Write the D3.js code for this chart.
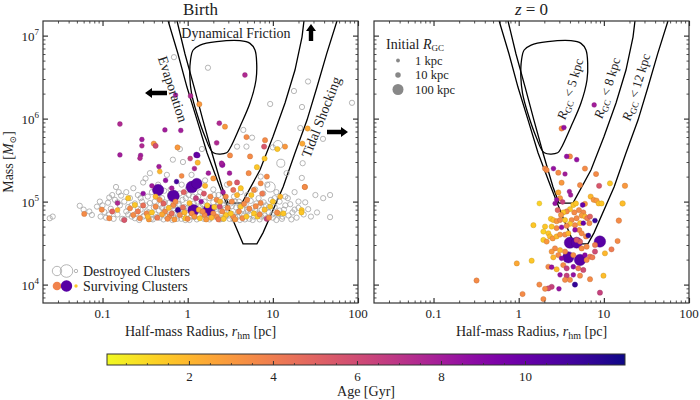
<!DOCTYPE html>
<html lang="en">
<head>
<meta charset="UTF-8">
<title>Cluster sizes</title>
<style>
  body { margin: 0; background: #fff; }
  text { font-family: "Liberation Serif", "DejaVu Serif", serif; fill: #222; }
</style>
</head>
<body>
<svg id="svg" width="700" height="400"></svg>
<script src="https://d3js.org/d3.v7.min.js"></script>
<script>
// destroyed clusters at birth: [rhm pc, mass Msun, initial R_GC kpc]
const destroyed = [
  [0.024,6.3e4,8],[0.026,6.6e4,8],[0.054,8.9e4,8],[0.06,8.0e4,8],[0.07,7.6e4,8],[0.075,6.9e4,8],[0.086,8.7e4,8],
  [0.093,1.0e5,8],[0.095,6.6e4,8],[0.1,9.0e4,8],[0.105,7.5e4,8],[0.11,6.4e4,8],[0.116,9.7e4,8],[0.12,1.12e5,8],
  [0.12,7.0e4,8],[0.125,8.2e4,8],[0.13,1.2e5,8],[0.135,6.2e4,8],[0.14,1.05e5,8],[0.144,1.5e5,8],[0.15,7.0e4,8],
  [0.15,9.8e4,8],[0.155,1.3e5,8],[0.16,9.0e4,8],[0.165,1.18e5,8],[0.17,6.2e4,8],[0.18,1.0e5,8],[0.18,6.1e4,8],
  [0.19,1.3e5,8],[0.19,7.6e4,8],[0.2,8.6e4,8],[0.2,7.0e4,8],[0.21,1.1e5,8],[0.22,6.6e4,8],[0.22,9.0e4,8],
  [0.23,1.45e5,8],[0.24,9.5e4,8],[0.24,6.3e4,8],[0.25,7.2e4,8],[0.26,1.2e5,8],[0.26,8.2e4,8],[0.27,6.0e4,8],
  [0.28,8.0e4,8],[0.28,1.1e5,8],[0.29,1.0e5,8],[0.3,1.7e5,8],[0.3,6.6e4,8],[0.31,6.8e4,8],[0.32,1.9e5,8],
  [0.32,9.0e4,8],[0.33,7.6e4,8],[0.34,1.15e5,8],[0.35,7.4e4,8],[0.36,2.2e5,8],[0.36,9.6e4,8],[0.37,6.2e4,8],
  [0.38,1.3e5,8],[0.39,6.1e4,8],[0.4,8.5e4,8],[0.41,1.0e5,8],[0.42,7.0e4,8],[0.43,6.5e4,8],[0.44,1.2e5,8],
  [0.45,1.6e5,8],[0.46,7.8e4,8],[0.47,6.4e4,8],[0.48,9.2e4,8],[0.5,1.1e5,8],[0.5,8.4e4,8],[0.52,6.1e4,8],
  [0.53,1.35e5,8],[0.54,9.8e4,8],[0.55,8.0e4,8],[0.56,6.6e4,8],[0.57,2.1e5,8],[0.58,7.0e4,8],[0.6,9.6e4,8],
  [0.6,7.6e4,8],[0.62,1.2e5,8],[0.63,1.4e5,8],[0.64,6.4e4,8],[0.66,6.0e4,8],[0.67,3.2e5,8],[0.67,8.8e4,8],
  [0.69,5.5e6,8],[0.7,1.05e5,8],[0.7,8.0e4,8],[0.72,7.3e4,8],[0.74,1.15e5,8],[0.75,6.2e4,8],[0.77,6.8e4,8],
  [0.78,9.4e4,8],[0.8,1.25e5,8],[0.8,9.0e4,8],[0.81,4.3e5,8],[0.82,7.8e4,8],[0.84,6.2e4,8],[0.85,1.6e5,8],
  [0.87,1.05e5,8],[0.88,3.0e5,8],[0.9,6.6e4,8],[0.9,7.8e4,8],[0.92,8.6e4,8],[0.94,6.0e4,8],[0.95,1.1e5,8],
  [0.98,7.0e4,8],[1.0,1.4e5,8],[1.0,8.4e4,8],[1.03,1.2e5,8],[1.05,6.0e4,8],[1.08,9.0e4,8],[1.1,6.6e4,8],
  [1.11,2.1e5,8],[1.12,7.5e4,8],[1.15,1.15e5,8],[1.18,9.5e4,8],[1.2,6.5e4,8],[1.22,7.2e4,8],[1.25,8.3e4,8],
  [1.28,6.1e4,8],[1.3,1.0e5,8],[1.33,1.15e5,8],[1.35,6.8e4,8],[1.4,1.3e5,8],[1.4,8.6e4,8],[1.45,7.8e4,8],
  [1.47,4.3e5,8],[1.5,9.3e4,8],[1.5,7.0e4,8],[1.55,6.2e4,8],[1.58,1.0e5,8],[1.6,1.8e5,8],[1.62,6.3e4,8],
  [1.65,7.2e4,8],[1.7,8.8e4,8],[1.73,4.1e6,8],[1.75,8.0e4,8],[1.8,1.1e5,8],[1.8,6.1e4,8],[1.85,6.4e4,8],
  [1.9,7.6e4,8],[1.95,7.0e4,8],[2.0,9.8e4,8],[2.0,1.4e5,8],[2.05,1.2e5,8],[2.1,6.6e4,8],[2.15,8.6e4,8],
  [2.2,8.2e4,8],[2.25,6.4e4,8],[2.3,1.2e5,8],[2.35,9.4e4,8],[2.4,6.1e4,8],[2.45,7.8e4,8],[2.5,7.3e4,8],
  [2.6,9.0e4,8],[2.6,6.2e4,8],[2.7,1.05e5,8],[2.75,8.4e4,8],[2.8,6.7e4,8],[2.9,1.6e5,8],[2.9,1.0e5,8],
  [3.0,8.0e4,8],[3.05,6.8e4,8],[3.1,6.2e4,8],[3.2,9.5e4,8],[3.3,7.1e4,8],[3.3,8.8e4,8],[3.45,6.1e4,8],
  [3.5,1.15e5,8],[3.6,6.5e4,8],[3.6,1.0e5,8],[3.7,8.5e4,8],[3.8,4.6e5,8],[3.9,7.5e4,8],[3.9,6.6e4,8],
  [4.0,1.0e5,8],[4.1,6.0e4,8],[4.1,8.8e4,8],[4.2,1.3e5,8],[4.3,7.0e4,8],[4.4,8.1e4,8],[4.5,7.3e5,8],
  [4.6,6.8e4,8],[4.7,6.1e4,8],[4.8,9.2e4,8],[4.9,4.6e5,8],[5.0,1.2e5,8],[5.0,8.0e4,8],[5.1,7.6e4,8],
  [5.3,6.2e4,8],[5.4,7.0e4,8],[5.5,1.02e5,8],[5.7,5.9e5,8],[5.8,8.4e4,8],[5.8,6.0e4,8],[6.0,6.6e4,8],
  [6.2,1.4e5,8],[6.2,7.8e4,8],[6.4,9.5e4,8],[6.6,7.2e4,8],[6.8,1.1e5,8],[6.8,8.8e4,8],[7.0,6.1e4,8],
  [7.2,2.0e5,8],[7.3,6.6e4,8],[7.4,8.0e4,8],[7.7,1.25e5,8],[7.8,9.8e4,8],[8.0,6.8e4,8],[8.3,9.0e4,8],
  [8.4,6.3e4,8],[8.6,1.6e5,8],[9.0,7.4e4,8],[9.0,8.6e4,8],[9.3,1.5e5,80],[9.3,1.5e6,8],[9.5,1.05e5,8],
  [9.8,7.0e4,8],[10,4.5e5,8],[10,6.4e4,8],[10.5,8.6e4,8],[10.5,1.1e5,8],[11,1.3e5,8],[11,6.0e4,8],
  [11.5,4.8e5,60],[11.5,7.0e4,8],[12,1.0e5,8],[12,7.8e4,8],[12.4,2.9e5,40],[12.8,6.2e4,8],[13,6.6e4,8],
  [13.5,8.0e4,8],[14,1.15e5,8],[14,9.0e4,8],[14.5,2.2e5,8],[15,1.1e5,8],[15.3,6.8e4,8],[16,9.3e4,8],
  [16.5,6.1e4,8],[17,7.4e4,8],[17.7,2.15e6,8],[18,1.3e5,8],[18,8.0e4,8],[19,6.4e4,8],[20,8.4e4,8],
  [20,1.0e5,8],[21,7.7e5,8],[21.9,1.93e5,8],[22,1.38e6,8],[22.4,2.9e5,8],[23,7.0e4,8],[24,9.8e4,8],
  [25.9,2.8e6,8],[26,8.1e4,8],[28,6.6e4,8],[31.6,1.2e5,8],[33,7.4e4,8],[38.8,5.7e5,8],[39,1.1e5,8],
  [47,1.2e5,8],[47,6.5e4,8],[85,1.55e6,8]
]

// surviving clusters at birth: [rhm pc, mass Msun, age Gyr, initial R_GC kpc]
const birth = [
  [4.7,3.35e6,7.5,6],[1.08,1.87e6,7.5,6],[0.72,1.92e6,8,5],[1.37,1.49e6,3,8],[2.35,8.8e5,7.5,6],
  [2.74,8.0e5,3,8],[0.16,8.6e5,7.5,6],[0.54,7.3e5,8,5],[0.83,7.2e5,8,5],[0.29,5.6e5,8,5],[0.29,4.7e5,7.5,5],
  [0.40,5.0e5,3,8],[0.42,4.7e5,6,8],[0.28,3.6e5,8,5],[0.76,4.5e5,3,8],[1.31,3.6e5,10,6],[1.07,3.3e5,6.5,6],
  [2.19,5.1e5,7.5,6],[3.14,3.6e5,3.5,8],[4.9,6.0e5,3.5,8],[8.1,5.5e5,3.5,8],[7.9,4.6e5,5.5,8],
  [11.3,4.3e5,1.5,8],[13.9,4.6e5,3,8],[25.6,7.6e5,2.5,8],[22.2,5.0e5,2.5,8],[8.0,3.3e5,1.5,8],
  [2.5,2.9e5,8,5],[3.1,2.2e5,8,5],[5.4,3.5e5,3.5,8],[6.5,2.6e5,1.5,8],[23.8,1.5e5,3,8],[21.8,7.9e4,1.5,8],
  [11.6,7.2e4,1.5,8],[8.5,6.2e4,6.5,8],
  [0.16,3.65e5,8,5],[0.275,3.33e5,7.5,5],[0.46,2.64e5,8,5],[0.47,2.3e5,2,6],[0.85,2.04e5,3.5,6],
  [1.27,3.65e5,10,12],[1.31,2.95e5,2,8],[1.75,2.2e5,8,5],[2.55,2.77e5,8.5,10],[0.74,1.74e5,11,5],
  [0.15,9.6e4,7.5,5],[0.15,7.9e4,2,6],[0.061,7.1e4,3.5,8],[0.21,8.3e4,3.5,8],[0.24,9.1e4,1.5,8],
  [0.23,6.9e4,3.5,8],[0.275,6.3e4,3.5,8],[0.33,7.2e4,3.5,8],[0.42,1.15e5,2,8],[0.47,1.05e5,3.5,8],
  [0.54,7.6e4,3.5,8],[0.42,8.7e4,3.5,8],[0.61,6.6e4,3.5,8],[0.68,9.1e4,3.5,8],[0.81,6.9e4,3.5,8],
  [0.77,7.9e4,11.5,10],[0.94,6.3e4,1.5,8],[1.12,7.2e4,3.5,8],
  [1.17,7.9e4,10.5,110],[1.77,7.9e4,10.5,110],[0.45,1.38e5,10.5,110],[0.68,1.17e5,10.5,120],
  [1.12,1.5e5,10.5,120],[1.28,1.65e5,10.5,90],
  [1.44,1.0e5,8.5,5],[2.19,1.05e5,3.5,8],[2.38,8.7e4,6,8],[2.8,1.15e5,3.5,8],[3.43,1.38e5,4.5,8],
  [3.1,1.66e5,3.5,8],[4.2,8.7e4,1.5,8],[5.0,1.05e5,3.5,8],[6.0,1.38e5,3.5,8],[7.2,1.66e5,3.5,8],
  [8.5,2.0e5,3.5,8],[12.2,1.15e5,2,8],[13.3,7.2e4,1.5,8],[11.2,7.4e4,3.5,8],[9.3,8.7e4,1.5,8],
  [7.2,9.6e4,3.5,8],[6.0,7.2e4,1.5,8],[3.43,6.6e4,3.5,8],[2.19,6.6e4,3.5,8],[1.39,6.3e4,1.5,8],
  [1.58,6.9e4,3.5,8],[2.0,7.2e4,3.5,8],[2.8,6.9e4,1.5,8],[4.4,6.3e4,3.5,8],[6.6,6.6e4,1.5,8],
  [21.7,7.4e4,1.5,8],[23.7,1.5e5,3.5,8],
  [0.3,9.0e4,4.5,8],[0.35,6.1e4,3,8],[0.38,7.4e4,1.5,8],[0.44,6.4e4,4,8],[0.5,7.0e4,2.5,8],
  [0.52,9.5e4,5,8],[0.58,6.2e4,3.5,8],[0.6,8.4e4,1.8,8],[0.65,7.2e4,4.5,8],[0.7,6.1e4,3,8],
  [0.72,1.0e5,3.5,8],[0.88,8.5e4,4.5,8],[0.92,7.4e4,2,8],[1.0,6.2e4,3.5,8],[1.05,9.6e4,1.8,8],
  [1.2,6.6e4,3,8],[1.25,1.1e5,6.5,8],[1.35,8.0e4,2,8],[1.5,7.6e4,3.5,8],[1.55,1.25e5,5.5,8],
  [1.65,6.1e4,3,8],[1.7,9.0e4,1.5,8],[1.85,1.15e5,3.5,8],[1.9,6.4e4,2,8],[2.05,8.6e4,1.5,8],
  [2.3,6.1e4,4,8],[2.4,1.0e5,2,8],[2.55,7.6e4,3.5,8],[2.65,6.2e4,1.5,8],[2.95,8.4e4,3.5,8],
  [3.2,7.2e4,1.5,8],[3.3,1.0e5,3.5,8],[3.6,6.1e4,3,8],[3.8,1.2e5,2,8],[4.0,7.6e4,3.5,8],
  [4.6,9.4e4,3.5,8],[4.9,6.6e4,1.5,8],[5.3,8.2e4,3.5,8],[5.6,1.2e5,1.5,8],[6.3,8.8e4,3.5,8],
  [7.0,7.0e4,3.5,8],[7.5,1.25e5,4,8],[8.0,8.0e4,1.8,8],[9.0,6.4e4,3.5,8],[10,1.0e5,1.5,8],
  [0.2,1.1e5,1.5,8],[0.26,7.6e4,4,8],[0.34,6.6e4,2,8],[0.38,1.55e5,8,5],[0.55,1.8e5,8.5,5],
  [0.9,1.3e5,5,8],[1.6,1.55e5,2,8],[2.6,1.3e5,8,5],[3.8,1.7e5,5.5,8],[5.2,2.2e5,3.5,8],
  [4.2,1.45e5,1.5,8],[0.12,6.3e4,3.5,8],[0.18,6.0e4,5.5,8],[0.13,7.6e4,5,8],[0.098,8.0e4,3.5,8],
  [0.3,1.25e5,8.5,5],[0.65,1.45e5,8,5],[2.0,1.9e5,3,8],[1.2,2.5e5,7.5,5]
]

// surviving clusters today (z = 0): [rhm pc, mass Msun, age Gyr, initial R_GC kpc]
const today = [
  [3.19,7.6e5,3.5,8],[3.4,7.8e5,8.5,5],[7.7,1.46e6,8,5],
  [3.66,3.5e5,8.5,5],[4.0,3.5e5,3.5,8],[4.8,3.2e5,8.5,5],[6.0,2.5e5,3.5,8],[2.04,2.5e5,3.5,8],[2.56,2.5e5,8.5,5],
  [2.13,2.4e5,3.5,8],[2.92,2.23e5,3.5,8],[3.5,2.15e5,8,4],[8.1,2.15e5,3.5,8],[5.25,1.58e5,3.5,8],
  [8.8,1.55e5,5.5,8],[11.8,1.66e5,1.5,8],[17.7,1.55e5,3,10],[3.19,1.69e5,3,8],[2.92,1.29e5,2.5,8],
  [3.94,1.32e5,8,4],[4.08,1.2e5,8,4],[3.06,1.1e5,3,8],[2.79,1.05e5,8.5,4],[2.67,9.5e4,8.5,4],
  [1.75,9.5e4,1.2,6],[3.28,9.9e4,6.5,6],[4.38,9.1e4,1.5,8],[4.7,9.5e4,1.5,8],[5.64,9.1e4,10,6],
  [6.0,9.4e4,3,8],[5.1,7.9e4,3.5,8],[7.0,1.15e5,2,8],[7.6,1.05e5,3,8],[8.2,1.03e5,3,8],[8.7,9.5e4,1.8,8],
  [9.4,9.5e4,1.5,8],[16.6,9.5e4,1.8,10],[15.0,5.9e4,3.5,10],[5.74,7.4e4,3.5,8],[4.5,7.4e4,3.5,8],
  [4.0,8.1e4,1.5,8],[3.66,7.6e4,3.5,8],[3.34,7.4e4,1.5,8],[3.14,6.9e4,3,8],[2.87,7.9e4,5,8],
  [2.39,6.2e4,1.5,8],[2.55,6.0e4,1.8,8],[2.79,5.8e4,3,8],[3.06,6.0e4,3.5,8],[3.5,6.0e4,1.5,8],
  [4.19,6.0e4,3.5,8],[4.79,6.3e4,3.5,8],[5.49,6.8e4,3,8],[6.0,6.6e4,2,8],[6.39,6.3e4,4,8],
  [6.88,6.6e4,5,8],[7.87,5.9e4,11.5,6],[6.76,5.5e4,3.5,8],[5.74,5.5e4,10,5],[5.25,5.5e4,1.8,8],
  [4.58,5.2e4,3.5,8],[4.0,5.4e4,1.5,8],[3.66,5.1e4,3.5,8],[3.19,4.9e4,8.5,5],[2.79,4.8e4,3.5,8],
  [2.44,5.0e4,1.5,8],[2.04,5.0e4,1.5,8],[1.95,4.35e4,1.2,8],[2.23,4.15e4,1.5,8],[2.33,3.8e4,1.8,8],
  [1.95,3.45e4,1.3,8],[2.13,3.3e4,3,8],[2.51,3.6e4,3,8],[2.79,3.8e4,2,8],[3.06,4.0e4,3,8],
  [3.5,4.0e4,3.5,8],[3.83,4.15e4,2,8],[4.58,4.55e4,8.5,5],[5.15,4.55e4,3.5,8],[5.49,4.15e4,3.5,8],
  [6.17,3.8e4,3.5,8],[6.58,3.9e4,11.5,6],[5.25,3.3e4,5,8],[4.79,3.45e4,5.5,8],
  [4.0,3.2e4,10.5,110],[4.79,3.2e4,10.5,100],[9.0,3.3e4,10.5,110],[3.83,2.13e4,10.5,110],[5.25,1.98e4,10.5,110],
  [5.49,2.73e4,3.5,8],[6.28,2.86e4,3.5,8],[7.87,3.0e4,4,8],[7.87,2.5e4,6,8],[6.88,2.17e4,4,8],
  [10.3,2.38e4,2,8],[12.3,2.66e4,4,8],[14.5,3.35e4,3.5,8],[3.5,2.5e4,3.5,8],[3.06,2.6e4,2,8],
  [2.67,2.73e4,3.5,8],[2.44,2.5e4,3,8],[2.92,2.27e4,3.5,8],[3.19,2.07e4,9,5],[4.38,2.27e4,3.5,8],
  [6.0,2.27e4,9,5],[6.28,1.98e4,3.5,8],[7.34,2.13e4,4,8],[2.55,2.13e4,2,8],[3.34,1.72e4,3.5,8],
  [3.66,1.57e4,6.5,8],[4.38,1.64e4,9,5],[5.01,1.57e4,4,8],[5.74,1.5e4,6,8],[2.23,1.64e4,3.5,8],
  [2.44,1.62e4,8.5,5],[2.79,1.53e4,2,8],[3.06,1.31e4,8.5,5],[3.66,1.28e4,6.5,8],[4.38,1.31e4,8.5,5],
  [5.25,1.28e4,3.5,8],[6.88,1.16e4,3.5,8],[4.58,1.0e4,11.5,8],[3.5,1.14e4,3.5,8],[4.0,1.14e4,3.5,8],
  [2.44,9.4e3,6.5,8],[2.23,9.0e3,6,8],[2.04,8.9e3,3.5,8],[1.75,1.0e4,3.5,8],[2.97,8.9e3,8.5,5],
  [9.9,1.28e4,1.8,8],[9.0,8.0e3,6.5,8],[1.42,1.94e4,1.5,8],[0.95,1.8e4,2.5,8],[1.11,7.7e3,3.5,8],
  [1.95,6.7e3,3.5,8],[0.32,1.12e4,3.5,8],[1.49,5.2e4,1.5,8]
]

// boundary curves: [rhm pc, mass Msun]
const curve5 = [[2.0,3.88e5],[2.87,3.88e5],[3.14,4.39e5],[4.11,8.0e5],[5.39,1.54e6],[6.34,2.92e6],[6.46,4.63e6],
  [6.17,6.71e6],[5.39,8.07e6],[4.11,8.69e6],[2.19,8.45e6],[1.40,7.7e6],[1.16,6.71e6],[1.08,5.08e6],
  [1.06,3.2e6],[1.11,2.02e6],[1.28,1.16e6],[1.60,6.05e5]]
const curve8 = [[0.75,1.5e7],[0.93,6.0e6],[1.19,2.4e6],[1.51,9.6e5],[1.93,3.85e5],[2.53,1.5e5],[2.97,9.6e4],
  [4.34,9.6e4],[7.06,2.4e5],[10.0,6.0e5],[13.9,1.54e6],[18.2,3.85e6],[22,9.6e6],[23.2,1.5e7]]
const curve12 = [[0.59,1.5e7],[0.77,6.0e6],[0.98,2.4e6],[1.29,9.6e5],[1.69,3.85e5],[2.39,1.5e5],[3.4,6.0e4],
  [4.47,3.1e4],[6.5,3.1e4],[7.66,4.2e4],[13.2,1.5e5],[18.2,3.85e5],[25.2,9.6e5],[33,2.4e6],[43,6.1e6],[56.6,1.5e7]]

const xTicks = [0.1, 1, 10, 100]
const xTickLabels = ['0.1', '1', '10', '100']
const yTicks = [1e4, 1e5, 1e6, 1e7]
const yExponents = ['4', '5', '6', '7']
const ageTicks = [2, 4, 6, 8, 10]
const legendRgc = [1, 10, 100]
const rgcLabels = ['5', '8', '12']

// scales
const yTop = 21, yBot = 303
const panels = [{ x0: 43, x1: 358 }, { x0: 374, x1: 689 }]
const yScale = d3.scaleLog().domain([6e3, 1.5e7]).range([yBot, yTop])
const rScale = d3.scaleSqrt().domain([0, 100]).range([1.5, 5.5])
const ageMin = 0.05, ageMax = 12.38
const color = d3.scaleSequential(t => d3.interpolatePlasma(1 - t)).domain([ageMin, ageMax])

const svg = d3.select('#svg')
const defs = svg.append('defs')

const minorOf = domain => {
  const out = []
  for (let e = -2; e <= 7; e++) for (let k = 2; k <= 9; k++) {
    const v = k * Math.pow(10, e)
    if (v > domain[0] && v < domain[1]) out.push(v)
  }
  return out
}

panels.forEach((p, i) => {
  p.x = d3.scaleLog().domain([0.02, 100]).range([p.x0, p.x1])
  defs.append('clipPath').attr('id', 'clip' + i)
    .append('rect').attr('x', p.x0).attr('y', yTop).attr('width', p.x1 - p.x0).attr('height', yBot - yTop)
  p.g = svg.append('g')
})

const line = x => d3.line().x(d => x(d[0])).y(d => yScale(d[1]))

panels.forEach((p, i) => {
  const g = p.g
  const plot = g.append('g').attr('clip-path', `url(#clip${i})`)

  // curves
  plot.append('path').attr('d', line(p.x).curve(d3.curveLinear)(curve12))
    .attr('fill', 'none').attr('stroke', '#000').attr('stroke-width', 1.3)
  plot.append('path').attr('d', line(p.x).curve(d3.curveLinear)(curve8))
    .attr('fill', 'none').attr('stroke', '#000').attr('stroke-width', 1.3)
  plot.append('path').attr('d', line(p.x).curve(d3.curveCatmullRomClosed.alpha(0.5))(curve5))
    .attr('fill', 'none').attr('stroke', '#000').attr('stroke-width', 1.3)

  if (i === 0) {
    plot.selectAll('.dead').data(destroyed.slice().sort((a, b) => b[2] - a[2])).enter()
      .append('circle')
      .attr('cx', d => p.x(d[0])).attr('cy', d => yScale(d[1])).attr('r', d => rScale(d[2]))
      .attr('fill', 'none').attr('stroke', '#a3a3a3').attr('stroke-width', 0.8)
  }
  const pts = (i === 0 ? birth : today).slice().sort((a, b) => b[3] - a[3])
  plot.selectAll('.alive').data(pts).enter()
    .append('circle')
    .attr('cx', d => p.x(d[0])).attr('cy', d => yScale(d[1])).attr('r', d => rScale(d[3]))
    .attr('fill', d => color(d[2]))
    .attr('stroke', d => d3.color(color(d[2])).darker(0.7)).attr('stroke-width', 0.4)

  // axes, ticks inward on all sides
  const w = p.x1 - p.x0, h = yBot - yTop
  const fmt = () => ''
  const axes = [
    [d3.axisBottom(p.x), `translate(0,${yBot})`],
    [d3.axisTop(p.x), `translate(0,${yTop})`],
    [d3.axisLeft(yScale), `translate(${p.x0},0)`],
    [d3.axisRight(yScale), `translate(${p.x1},0)`]
  ]
  axes.forEach(([ax, tr], k) => {
    const isX = k < 2
    const major = isX ? xTicks : yTicks
    const minor = minorOf(isX ? [0.02, 100] : [6e3, 1.5e7])
    g.append('g').attr('transform', tr)
      .call(ax.tickValues(minor).tickSize(-2.5).tickSizeOuter(0).tickFormat(fmt))
      .call(s => s.select('.domain').remove())
      .call(s => s.selectAll('line').attr('stroke', '#222').attr('stroke-width', 0.8))
    g.append('g').attr('transform', tr)
      .call(ax.tickValues(major).tickSize(-5).tickSizeOuter(0).tickFormat(fmt))
      .call(s => s.select('.domain').remove())
      .call(s => s.selectAll('line').attr('stroke', '#222').attr('stroke-width', 1.1))
      .call(s => s.selectAll('text').remove())
  })

  g.append('rect').attr('x', p.x0).attr('y', yTop).attr('width', w).attr('height', h)
    .attr('fill', 'none').attr('stroke', '#333').attr('stroke-width', 1.2)

  // x tick labels
  g.selectAll('.xl').data(xTicks).enter().append('text')
    .attr('x', d => p.x(d)).attr('y', yBot + 15)
    .attr('text-anchor', 'middle').style('font-size', '13px')
    .text((d, j) => xTickLabels[j])

  // x axis label
  const xl = g.append('text').attr('x', (p.x0 + p.x1) / 2).attr('y', yBot + 33)
    .attr('text-anchor', 'middle').style('font-size', '14px')
  xl.append('tspan').text('Half-mass Radius, ')
  xl.append('tspan').text('r').style('font-style', 'italic')
  xl.append('tspan').text('hm').style('font-size', '10px').attr('dy', 3)
  xl.append('tspan').text(' [pc]').attr('dy', -3)
})

// left panel y labels
const L = panels[0], R = panels[1]
yTicks.forEach((v, j) => {
  const t = svg.append('text').attr('x', L.x0 - 4).attr('y', yScale(v) + 5)
    .attr('text-anchor', 'end').style('font-size', '13px')
  t.append('tspan').text('10')
  t.append('tspan').text(yExponents[j]).style('font-size', '9px').attr('dy', -6)
})
const yl = svg.append('text').attr('transform', `translate(13,${(yTop + yBot) / 2}) rotate(-90)`)
  .attr('text-anchor', 'middle').style('font-size', '14px')
yl.append('tspan').text('Mass [')
yl.append('tspan').text('M').style('font-style', 'italic')
yl.append('tspan').text('⊙').style('font-size', '9px').attr('dy', 3)
yl.append('tspan').text(']').attr('dy', -3)

// titles
svg.append('text').attr('x', (L.x0 + L.x1) / 2).attr('y', 15).attr('text-anchor', 'middle')
  .style('font-size', '17px').text('Birth')
const zt = svg.append('text').attr('x', (R.x0 + R.x1) / 2).attr('y', 15).attr('text-anchor', 'middle')
  .style('font-size', '17px')
zt.append('tspan').text('z').style('font-style', 'italic')
zt.append('tspan').text(' = 0')

// process annotations (left panel)
const ann = svg.append('g').style('font-size', '14px')
ann.append('text').attr('x', 236).attr('y', 38).attr('text-anchor', 'middle').text('Dynamical Friction')
ann.append('text').attr('transform', 'translate(173,89) rotate(72)').attr('text-anchor', 'middle')
  .attr('dy', '0.35em').text('Evaporation')
ann.append('text').attr('transform', 'translate(321,117) rotate(-68.5)').attr('text-anchor', 'middle')
  .attr('dy', '0.35em').text('Tidal Shocking')

// block arrows: [tailX, tailY, headX, headY]
const arrows = [[167, 93, 145, 93], [311, 41, 311, 24], [327, 132, 348, 132]]
arrows.forEach(([x1, y1, x2, y2]) => {
  const len = Math.hypot(x2 - x1, y2 - y1), ang = Math.atan2(y2 - y1, x2 - x1) * 180 / Math.PI
  const hl = 7, sw = 2.2, hw = 5
  svg.append('path')
    .attr('d', `M0,${-sw}L${len - hl},${-sw}L${len - hl},${-hw}L${len},0L${len - hl},${hw}L${len - hl},${sw}L0,${sw}Z`)
    .attr('transform', `translate(${x1},${y1}) rotate(${ang})`).attr('fill', '#000')
})

// R_GC labels (right panel)
const rgcPos = [[570, 89], [607, 88], [636, 87]]
rgcLabels.forEach((lab, j) => {
  const t = svg.append('text').attr('transform', `translate(${rgcPos[j][0]},${rgcPos[j][1]}) rotate(-73)`)
    .attr('text-anchor', 'middle').attr('dy', '0.35em').style('font-size', '13px')
  t.append('tspan').text('R').style('font-style', 'italic')
  t.append('tspan').text('GC').style('font-size', '9px').attr('dy', 3)
  t.append('tspan').text(` < ${lab} kpc`).attr('dy', -3)
})

// legend, left panel
const legL = svg.append('g')
const legX = [57, 66.5, 76]
const deadR = [4.7, 6.3, 1.7], aliveR = [4.3, 5.7, 1.7]
const aliveAge = [3.8, 10.5, 1.5]
legX.forEach((x, j) => {
  legL.append('circle').attr('cx', x).attr('cy', 271).attr('r', deadR[j])
    .attr('fill', 'none').attr('stroke', '#a3a3a3').attr('stroke-width', 0.8)
})
legX.forEach((x, j) => {
  legL.append('circle').attr('cx', x).attr('cy', 286).attr('r', aliveR[j])
    .attr('fill', color(aliveAge[j]))
})
legL.append('text').attr('x', 83).attr('y', 275.5).style('font-size', '14px').text('Destroyed Clusters')
legL.append('text').attr('x', 83).attr('y', 290.5).style('font-size', '14px').text('Surviving Clusters')

// legend, right panel
const legR = svg.append('g')
const lt = legR.append('text').attr('x', 386).attr('y', 49).style('font-size', '14px')
lt.append('tspan').text('Initial ')
lt.append('tspan').text('R').style('font-style', 'italic')
lt.append('tspan').text('GC').style('font-size', '9px').attr('dy', 2)
const legY = [60.5, 75, 89.5]
legendRgc.forEach((v, j) => {
  legR.append('circle').attr('cx', 398).attr('cy', legY[j]).attr('r', rScale(v)).attr('fill', '#888')
  legR.append('text').attr('x', 415).attr('y', legY[j] + 4.3).style('font-size', '12.5px').text(`${v} kpc`)
})

// colorbar
const cb = { x0: 107, x1: 625, y0: 354, y1: 365 }
const ageScale = d3.scaleLinear().domain([ageMin, ageMax]).range([cb.x0, cb.x1])
const grad = defs.append('linearGradient').attr('id', 'grad')
d3.range(0, 1.0001, 0.05).forEach(t => {
  grad.append('stop').attr('offset', t).attr('stop-color', color(ageMin + t * (ageMax - ageMin)))
})
svg.append('rect').attr('x', cb.x0).attr('y', cb.y0).attr('width', cb.x1 - cb.x0).attr('height', cb.y1 - cb.y0)
  .attr('fill', 'url(#grad)').attr('stroke', '#333').attr('stroke-width', 1)
const cbMinor = d3.range(0.5, ageMax, 0.5).filter(v => v % 2 !== 0)
svg.append('g').attr('transform', `translate(0,${cb.y1})`)
  .call(d3.axisBottom(ageScale).tickValues(cbMinor).tickSize(-2).tickFormat(() => ''))
  .call(s => s.select('.domain').remove())
  .call(s => s.selectAll('line').attr('stroke', '#333').attr('stroke-width', 0.8))
svg.append('g').attr('transform', `translate(0,${cb.y1})`)
  .call(d3.axisBottom(ageScale).tickValues(ageTicks).tickSize(-4).tickPadding(7).tickFormat(d3.format('d')))
  .call(s => s.select('.domain').remove())
  .call(s => s.selectAll('line').attr('stroke', '#333').attr('stroke-width', 1))
  .call(s => s.selectAll('text').style('font-size', '13px').style('font-family', '"Liberation Serif", serif').attr('fill', '#222'))
svg.append('text').attr('x', (cb.x0 + cb.x1) / 2).attr('y', 396).attr('text-anchor', 'middle')
  .style('font-size', '14px').text('Age [Gyr]')
</script>
</body>
</html>
